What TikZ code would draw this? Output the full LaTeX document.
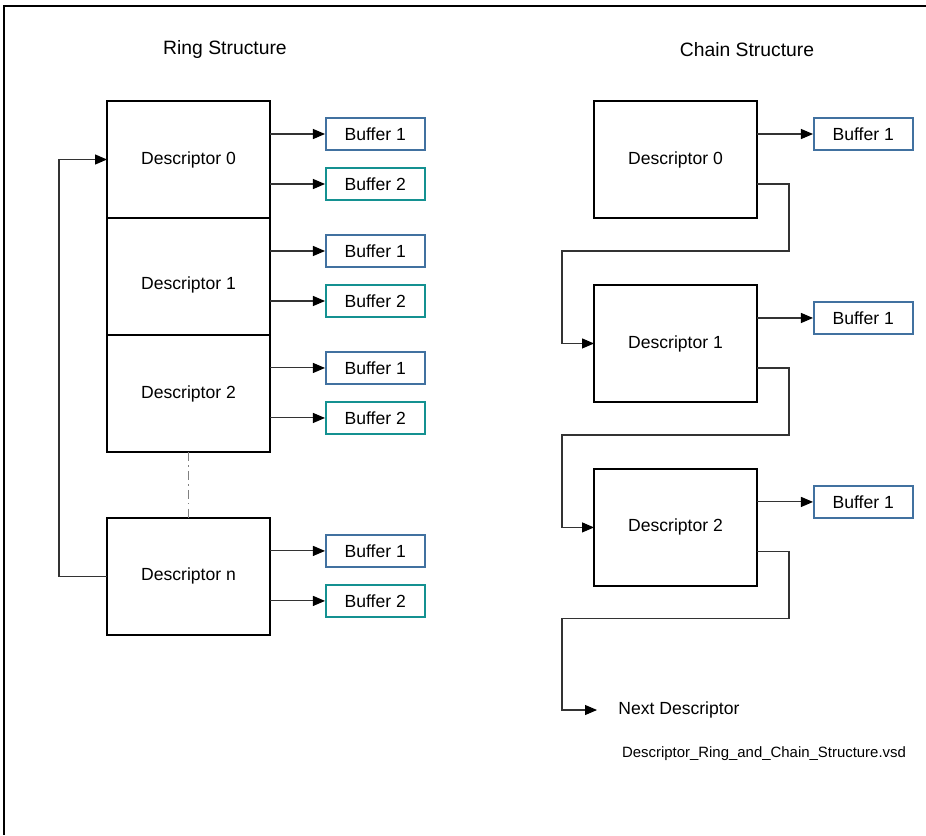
\documentclass[tikz,border=0pt]{standalone}
\usepackage{fontspec}
\setmainfont{Liberation Sans}
\usetikzlibrary{positioning,arrows.meta,calc}

\definecolor{bufblue}{RGB}{65,113,160}
\definecolor{bufteal}{RGB}{20,145,145}

\begin{document}
\begin{tikzpicture}[
    x=0.02cm, y=-0.02cm,
    desc/.style={rectangle, draw, line width=1.1pt, outer sep=0pt, minimum width=3.26cm, minimum height=2.34cm, font=\fontsize{10}{12}\selectfont},
    buf/.style={rectangle, draw, line width=0.9pt, inner sep=0pt, minimum width=1.98cm, minimum height=0.64cm, font=\fontsize{10}{12}\selectfont},
    bufa/.style={buf, draw=bufblue},
    bufb/.style={buf, draw=bufteal},
    title/.style={font=\fontsize{11}{13}\selectfont},
    arrow/.style={-{Triangle[length=2.4mm, width=2mm, color=black]}, line width=0.6pt, draw=black!80},
    dashdot/.style={draw=gray, line width=0.6pt, dash pattern=on 5pt off 2.5pt on 0.8pt off 2.5pt},
]
\useasboundingbox (0,0) rectangle (926,835);

% ====== Frame ======
\draw[line width=0.8pt] (926,6) -- (4,6) -- (4,835);

% ====== Titles ======
\node[title] (ringtitle) at (225,50) {Ring Structure};
\node[title] (chaintitle) at (747,50) {Chain Structure};

% ====== Ring structure ======
\node[desc] (r0) at (188.5,159.5) {Descriptor 0};
\node[desc, below=0cm of r0] (r1) {\smash{\raisebox{-7.6pt}{Descriptor 1}}};
\node[desc, below=0cm of r1] (r2) {Descriptor 2};
\node[desc, below=1.32cm of r2] (rn) {Descriptor n};

\draw[dashdot] (r2.south) -- (rn.north);

\node[bufa, anchor=west] (r0b1) at ($(r0.north east)+(55,33)$) {Buffer 1};
\node[bufb, anchor=west] (r0b2) at ($(r0.north east)+(55,83)$) {Buffer 2};
\node[bufa, anchor=west] (r1b1) at ($(r1.north east)+(55,33)$) {Buffer 1};
\node[bufb, anchor=west] (r1b2) at ($(r1.north east)+(55,83)$) {Buffer 2};
\node[bufa, anchor=west] (r2b1) at ($(r2.north east)+(55,33)$) {Buffer 1};
\node[bufb, anchor=west] (r2b2) at ($(r2.north east)+(55,83)$) {Buffer 2};
\node[bufa, anchor=west] (rnb1) at ($(rn.north east)+(55,33)$) {Buffer 1};
\node[bufb, anchor=west] (rnb2) at ($(rn.north east)+(55,83)$) {Buffer 2};

\draw[arrow] (r0.east |- r0b1) -- (r0b1);
\draw[arrow] (r0.east |- r0b2) -- (r0b2);
\draw[arrow] (r1.east |- r1b1) -- (r1b1);
\draw[arrow] (r1.east |- r1b2) -- (r1b2);
\draw[arrow] (r2.east |- r2b1) -- (r2b1);
\draw[arrow] (r2.east |- r2b2) -- (r2b2);
\draw[arrow] (rn.east |- rnb1) -- (rnb1);
\draw[arrow] (rn.east |- rnb2) -- (rnb2);

% back to the first descriptor
\draw[arrow] (rn.west) -- ++(-48,0) |- (r0.west);

% ====== Chain structure ======
\node[desc] (c0) at (675.5,159.5) {Descriptor 0};
\node[desc, below=1.34cm of c0] (c1) {Descriptor 1};
\node[desc, below=1.34cm of c1] (c2) {Descriptor 2};

\node[bufa, anchor=west] (c0b1) at ($(c0.north east)+(56,33)$) {Buffer 1};
\node[bufa, anchor=west] (c1b1) at ($(c1.north east)+(56,33)$) {Buffer 1};
\node[bufa, anchor=west] (c2b1) at ($(c2.north east)+(56,33)$) {Buffer 1};

\draw[arrow] (c0.east |- c0b1) -- (c0b1);
\draw[arrow] (c1.east |- c1b1) -- (c1b1);
\draw[arrow] (c2.east |- c2b1) -- (c2b1);

\node[anchor=west, inner sep=0pt, font=\fontsize{10}{12}\selectfont] (next) at (618,710) {Next Descriptor};

\draw[arrow] ($(c0.north east)+(0,83)$) -- ++(32,0) -- ++(0,67) -| ($(c1.west)+(-32,0)$) -- (c1.west);
\draw[arrow] ($(c1.north east)+(0,83)$) -- ++(32,0) -- ++(0,67) -| ($(c2.west)+(-32,0)$) -- (c2.west);
\draw[arrow] ($(c2.north east)+(0,83)$) -- ++(32,0) -- ++(0,67) -| ($(next.west)+(-56,0)$) -- ($(next.west)+(-21,0)$);

\node[font=\fontsize{8.5}{10}\selectfont] (file) at (764,754) {Descriptor\_Ring\_and\_Chain\_Structure.vsd};

\end{tikzpicture}
\end{document}
